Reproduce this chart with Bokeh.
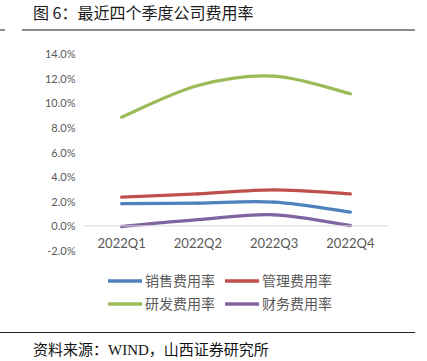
from bokeh.plotting import figure
from bokeh.layouts import column
from bokeh.models import (Range1d, FixedTicker, PrintfTickFormatter, Span,
                          Legend, LegendItem, Div)
from bokeh.embed import file_html
from bokeh.resources import INLINE

categories = ["2022Q1", "2022Q2", "2022Q3", "2022Q4"]
sales = [1.8, 1.85, 1.93, 1.12]
admin = [2.33, 2.6, 2.93, 2.6]
rnd = [8.83, 11.4, 12.16, 10.73]
fin = [-0.05, 0.5, 0.9, 0.03]
series_names = ["销售费用率", "管理费用率", "研发费用率", "财务费用率"]
series_colors = ["#4F81BD", "#C0504D", "#9BBB59", "#8064A2"]
y_ticks = [-2, 0, 2, 4, 6, 8, 10, 12, 14]

title_text = "图 6：最近四个季度公司费用率"
source_text = "资料来源：WIND，山西证券研究所"

W = 427
PX_PER_UNIT = 197 / 16.0          # -2..14 over 197 px
EXTRA_BELOW = 72                  # frame continues below -2% to hold the legend

# ---- top: title + rule ----
top_html = (
    '<div style="position:relative;width:427px;height:45px;">'
    '<div style="position:absolute;left:33px;top:1px;font-family:\'Noto Sans CJK SC\';'
    'font-size:16px;line-height:22px;color:#1a1a1a;white-space:nowrap;">'
    + title_text + '</div>'
    '<div style="position:absolute;left:0px;top:29px;width:5px;height:2px;background:#8c8c8c;"></div>'
    '<div style="position:absolute;left:22px;top:29px;width:393px;height:2px;background:#8c8c8c;"></div>'
    '</div>'
)
top = Div(text=top_html, width=W, height=45, margin=0)

# ---- middle: chart ----
y_start = y_ticks[0] - EXTRA_BELOW / PX_PER_UNIT
p = figure(frame_width=305, frame_height=197 + EXTRA_BELOW,
           output_backend="svg", toolbar_location=None,
           x_range=Range1d(-0.5, 3.5), y_range=Range1d(y_start, y_ticks[-1]), title=None,
           min_border_left=83, min_border_right=39, min_border_top=8,
           min_border_bottom=0)
p.outline_line_color = None
p.grid.visible = False

xs = list(range(len(categories)))

p.xaxis.ticker = FixedTicker(ticks=xs)
p.xaxis.major_label_overrides = {i: c for i, c in enumerate(categories)}
p.xaxis.axis_line_color = None
p.xaxis.major_tick_line_color = None
p.xaxis.minor_tick_line_color = None
p.xaxis.major_tick_out = 0
p.xaxis.major_label_standoff = -16 - EXTRA_BELOW
p.xaxis.major_label_text_font = "Lato"
p.xaxis.major_label_text_font_size = "13px"
p.xaxis.major_label_text_color = "#595959"

p.yaxis.ticker = FixedTicker(ticks=y_ticks)
p.yaxis.formatter = PrintfTickFormatter(format="%.1f%%")
p.yaxis.axis_line_color = None
p.yaxis.major_tick_line_color = None
p.yaxis.minor_tick_line_color = None
p.yaxis.major_tick_out = 0
p.yaxis.major_label_standoff = 8
p.yaxis.major_label_text_font = "Lato"
p.yaxis.major_label_text_font_size = "11px"
p.yaxis.major_label_text_color = "#595959"

p.add_layout(Span(location=0, dimension="width", line_color="#D9D9D9", line_width=1))


def smooth_ctrl(xv, yv):
    n = len(xv)
    x0, y0, x1, y1, cx0, cy0, cx1, cy1 = [], [], [], [], [], [], [], []
    for i in range(n - 1):
        ip = max(i - 1, 0)
        i2 = min(i + 2, n - 1)
        x0.append(xv[i]); y0.append(yv[i])
        x1.append(xv[i + 1]); y1.append(yv[i + 1])
        cx0.append(xv[i] + (xv[i + 1] - xv[ip]) / 6.0)
        cy0.append(yv[i] + (yv[i + 1] - yv[ip]) / 6.0)
        cx1.append(xv[i + 1] - (xv[i2] - xv[i]) / 6.0)
        cy1.append(yv[i + 1] - (yv[i2] - yv[i]) / 6.0)
    return dict(x0=x0, y0=y0, x1=x1, y1=y1, cx0=cx0, cy0=cy0, cx1=cx1, cy1=cy1)


rend = {}
for name, vals, col in zip(series_names, [sales, admin, rnd, fin], series_colors):
    rend[name] = p.bezier(line_color=col, line_width=3.3, line_cap="round",
                          **smooth_ctrl(xs, vals))

# legend fills column by column: col 1 = 销售/研发, col 2 = 管理/财务
order = [series_names[0], series_names[2], series_names[1], series_names[3]]
items = [LegendItem(label=n, renderers=[rend[n]]) for n in order]
legend = Legend(items=items, location=(25, 9), ncols=2,
                glyph_width=34, glyph_height=17, label_height=17,
                label_standoff=3, spacing=3, label_width=77,
                padding=0, margin=0, border_line_color=None,
                background_fill_alpha=0,
                label_text_font="Noto Sans CJK SC", label_text_font_size="14px",
                label_text_color="#595959")
p.add_layout(legend, "center")

# ---- bottom: rule + source ----
bot_html = (
    '<div style="position:relative;width:427px;height:39px;">'
    '<div style="position:absolute;left:0px;top:10px;width:415px;height:1px;background:#222222;"></div>'
    '<div style="position:absolute;left:33px;top:17px;font-family:\'Liberation Serif\',\'Noto Sans CJK SC\';'
    'font-size:15px;line-height:22px;color:#111111;white-space:nowrap;">'
    + source_text + '</div>'
    '</div>'
)
bot = Div(text=bot_html, width=W, height=39, margin=0)

layout = column(top, p, bot, spacing=0)
open("out.html", "w").write(file_html(layout, INLINE))
